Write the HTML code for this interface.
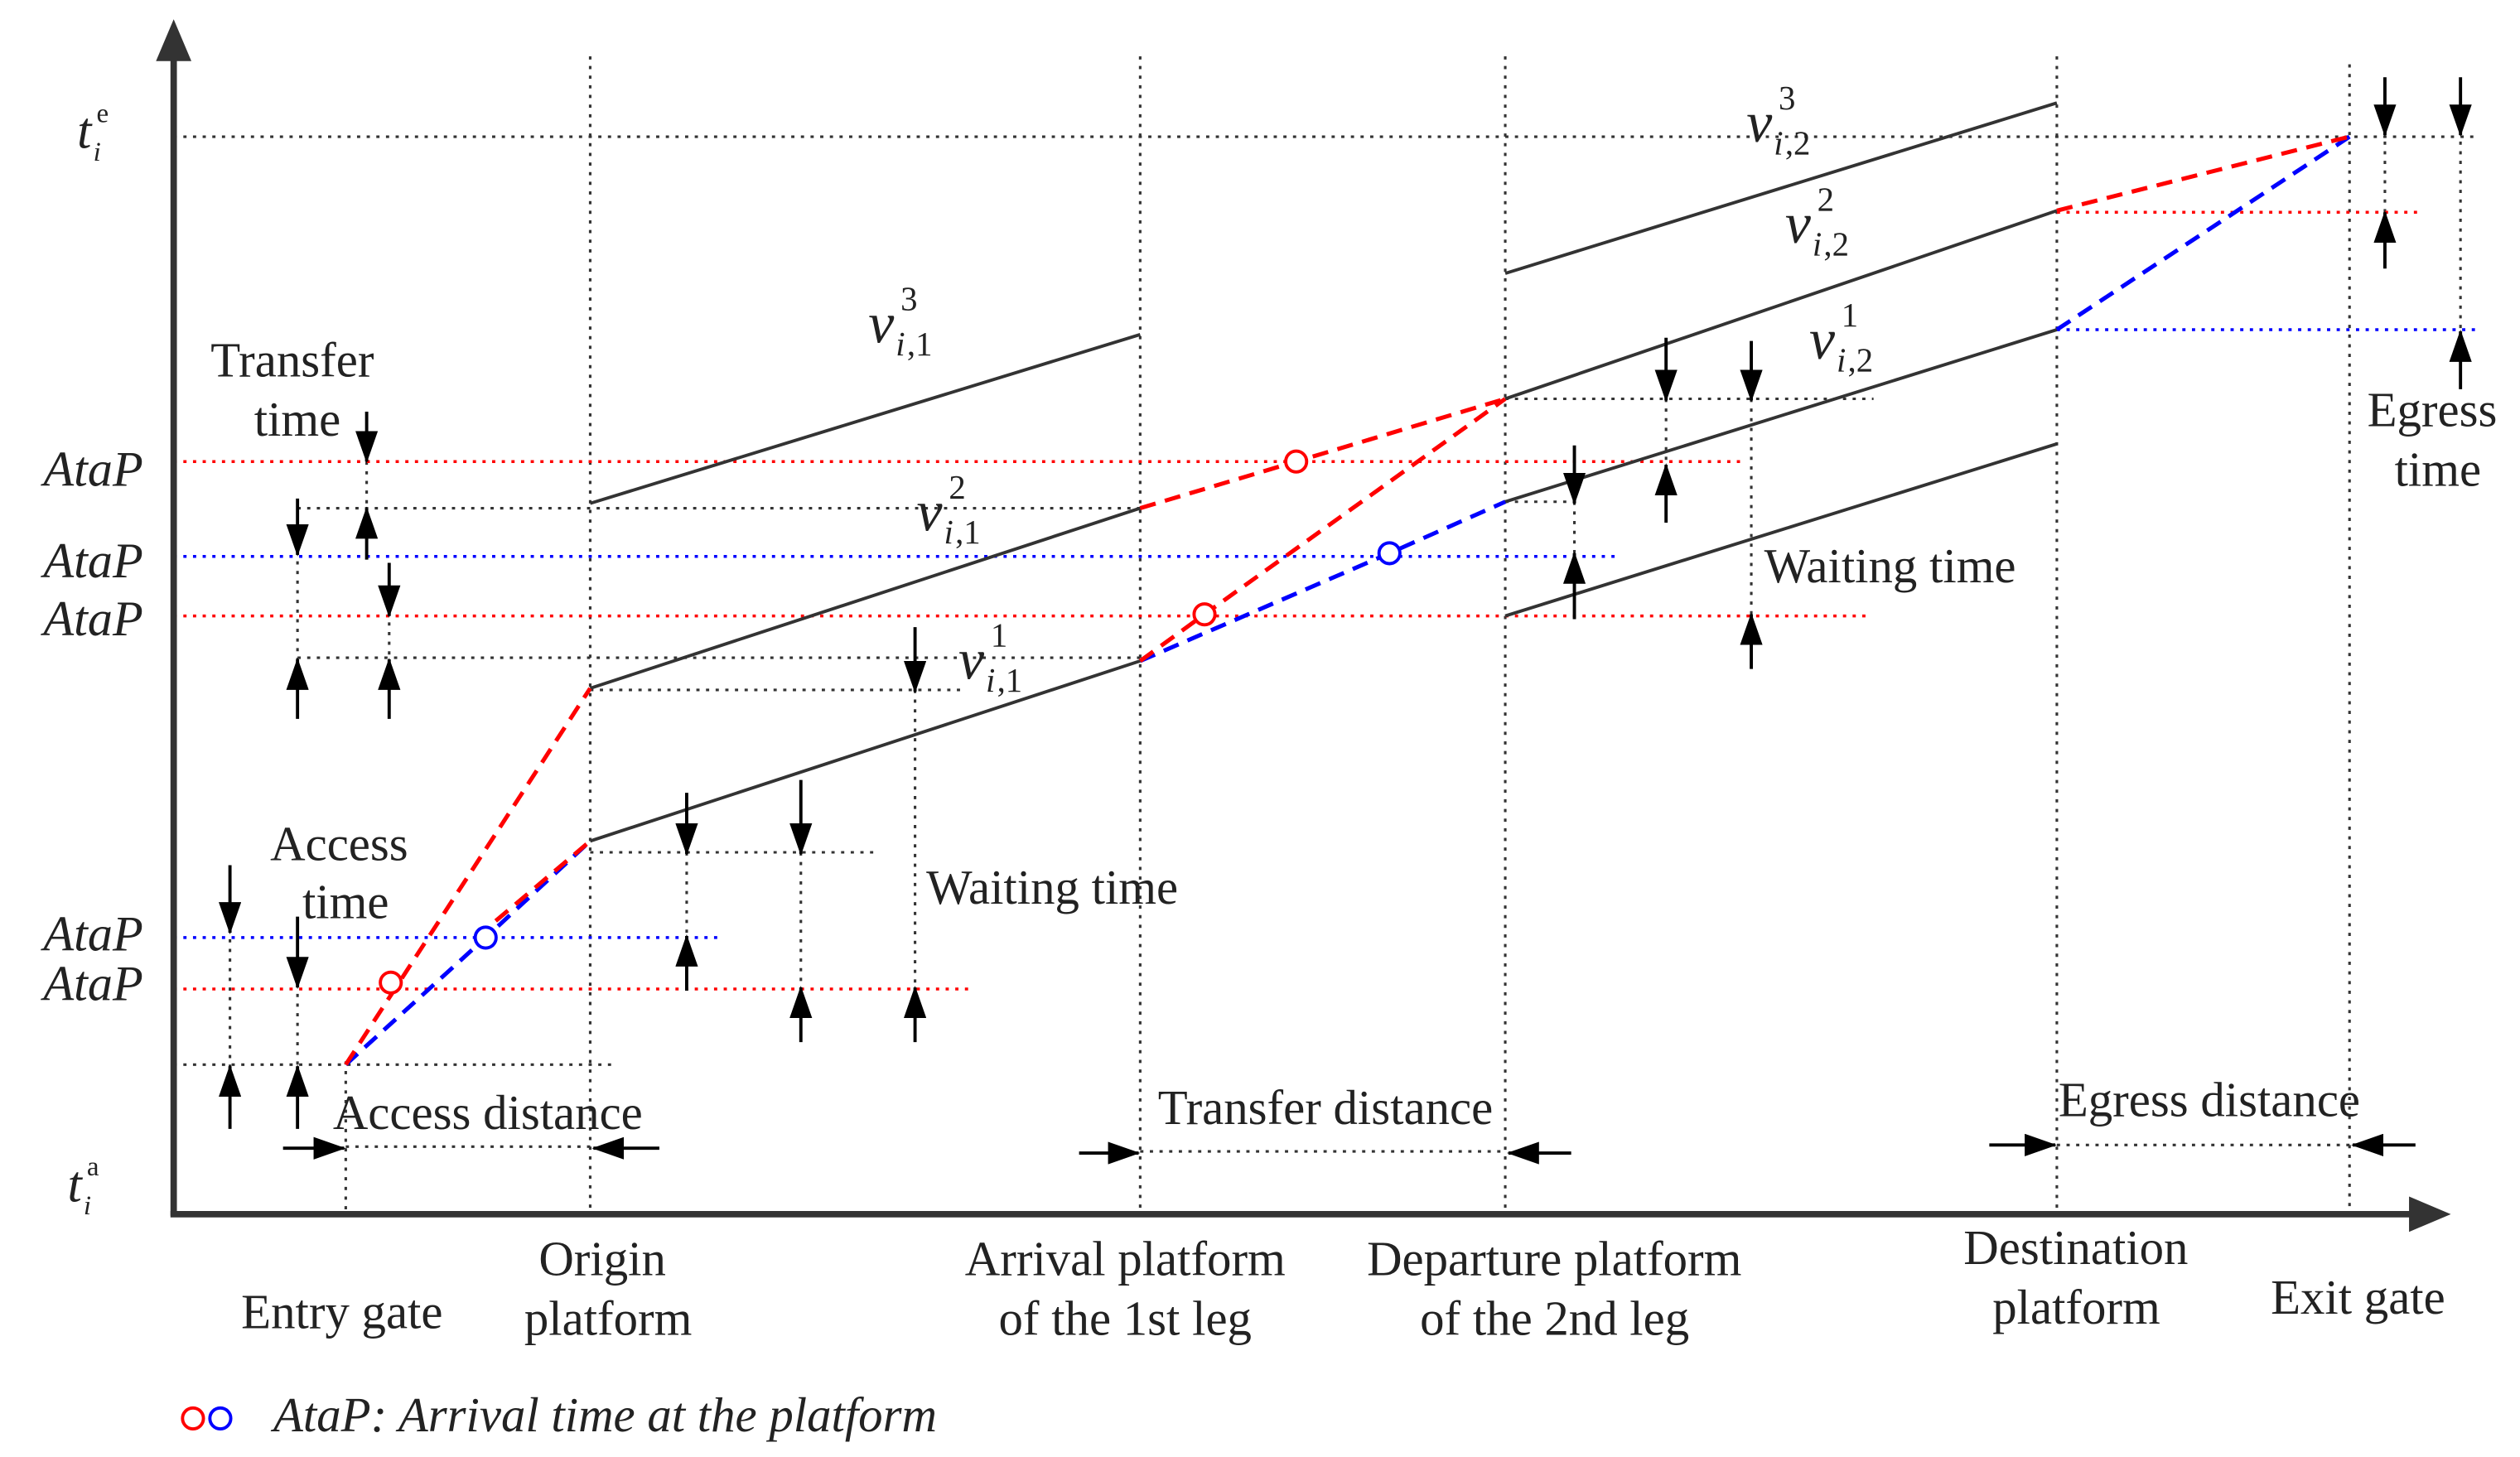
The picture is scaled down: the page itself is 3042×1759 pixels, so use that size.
<!DOCTYPE html>
<html><head><style>html,body{margin:0;padding:0;background:#fff}svg{display:block}</style></head><body>
<svg width="3042" height="1759" viewBox="0 0 1567 906" preserveAspectRatio="none" xmlns="http://www.w3.org/2000/svg" font-family="Liberation Serif, serif" fill="#222">
<defs>
<marker id="a2" markerWidth="20" markerHeight="14" refX="19" refY="7" orient="auto" markerUnits="userSpaceOnUse"><path d="M0,0 L20,7 L0,14z" fill="#000"/></marker>
</defs>
<g stroke="#333" stroke-width="1.6" stroke-dasharray="2,4" fill="none">
<line x1="215" y1="660" x2="215" y2="755"/>
<line x1="367" y1="35" x2="367" y2="755"/>
<line x1="709" y1="35" x2="709" y2="755"/>
<line x1="936" y1="35" x2="936" y2="755"/>
<line x1="1279" y1="35" x2="1279" y2="755"/>
<line x1="1461" y1="40" x2="1461" y2="755"/>
<line x1="1483" y1="82" x2="1483" y2="135"/>
<line x1="1530" y1="82" x2="1530" y2="210"/>
<line x1="108" y1="85" x2="1540" y2="85"/>
<line x1="185" y1="316" x2="709" y2="316"/>
<line x1="185" y1="409" x2="709" y2="409"/>
<line x1="367" y1="429" x2="600" y2="429"/>
<line x1="367" y1="530" x2="545" y2="530"/>
<line x1="108" y1="662" x2="380" y2="662"/>
<line x1="936" y1="248" x2="1165" y2="248"/>
<line x1="936" y1="312" x2="982" y2="312"/>
<line x1="215" y1="713" x2="367" y2="713"/>
<line x1="709" y1="716" x2="936" y2="716"/>
<line x1="1279" y1="712" x2="1461" y2="712"/>
<line x1="228" y1="287" x2="228" y2="318"/>
<line x1="185" y1="343" x2="185" y2="412"/>
<line x1="242" y1="381" x2="242" y2="412"/>
<line x1="143" y1="578" x2="143" y2="665"/>
<line x1="185" y1="612" x2="185" y2="665"/>
<line x1="427" y1="530" x2="427" y2="583"/>
<line x1="498" y1="530" x2="498" y2="615"/>
<line x1="569" y1="429" x2="569" y2="615"/>
<line x1="979" y1="312" x2="979" y2="345"/>
<line x1="1036" y1="248" x2="1036" y2="290"/>
<line x1="1089" y1="248" x2="1089" y2="383"/>
</g>
<g stroke-width="1.8" stroke-dasharray="2,4" fill="none">
<line x1="108" y1="287" x2="1085" y2="287" stroke="#f00"/>
<line x1="108" y1="383" x2="1160" y2="383" stroke="#f00"/>
<line x1="108" y1="615" x2="603" y2="615" stroke="#f00"/>
<line x1="1279" y1="132" x2="1505" y2="132" stroke="#f00"/>
<line x1="108" y1="346" x2="1005" y2="346" stroke="#00f"/>
<line x1="108" y1="583" x2="448" y2="583" stroke="#00f"/>
<line x1="1279" y1="205" x2="1540" y2="205" stroke="#00f"/>
</g>
<g stroke="#333" stroke-width="2" fill="none">
<line x1="367" y1="523" x2="709" y2="411"/>
<line x1="367" y1="428" x2="709" y2="316"/>
<line x1="367" y1="313" x2="709" y2="208"/>
<line x1="936" y1="312" x2="1279" y2="205"/>
<line x1="936" y1="248" x2="1279" y2="131"/>
<line x1="936" y1="170" x2="1279" y2="64"/>
<line x1="936" y1="383" x2="1279" y2="276"/>
</g>
<g stroke-width="2.6" stroke-dasharray="10,6" fill="none">
<polyline points="215,662 302,583 367,523" stroke="#00f"/>
<polyline points="709,411 864,344 936,312" stroke="#00f"/>
<polyline points="1279,205 1461,85" stroke="#00f"/>
<polyline points="215,662 367,428" stroke="#f00"/>
<polyline points="296,583 367,523" stroke="#f00"/>
<polyline points="709,316 806,287 936,248" stroke="#f00"/>
<polyline points="709,411 749,382 936,248" stroke="#f00"/>
<polyline points="1279,131 1461,85" stroke="#f00"/>
</g>
<g fill="#fff" stroke-width="2">
<circle cx="243" cy="611" r="6.5" stroke="#f00"/>
<circle cx="749" cy="382" r="6.5" stroke="#f00"/>
<circle cx="806" cy="287" r="6.5" stroke="#f00"/>
<circle cx="302" cy="583" r="6.5" stroke="#00f"/>
<circle cx="864" cy="344" r="6.5" stroke="#00f"/>
<circle cx="120" cy="882" r="6.5" stroke="#f00"/>
<circle cx="137" cy="882" r="6.5" stroke="#00f"/>
</g>
<g stroke="#000" stroke-width="2" marker-end="url(#a2)">
<line x1="228" y1="256" x2="228" y2="287"/>
<line x1="228" y1="348" x2="228" y2="316"/>
<line x1="185" y1="310" x2="185" y2="345"/>
<line x1="185" y1="447" x2="185" y2="410"/>
<line x1="242" y1="350" x2="242" y2="383"/>
<line x1="242" y1="447" x2="242" y2="410"/>
<line x1="143" y1="538" x2="143" y2="580"/>
<line x1="143" y1="702" x2="143" y2="663"/>
<line x1="185" y1="570" x2="185" y2="614"/>
<line x1="185" y1="702" x2="185" y2="663"/>
<line x1="427" y1="493" x2="427" y2="531"/>
<line x1="427" y1="616" x2="427" y2="582"/>
<line x1="498" y1="485" x2="498" y2="531"/>
<line x1="498" y1="648" x2="498" y2="614"/>
<line x1="569" y1="390" x2="569" y2="430"/>
<line x1="569" y1="648" x2="569" y2="614"/>
<line x1="979" y1="277" x2="979" y2="313"/>
<line x1="979" y1="385" x2="979" y2="344"/>
<line x1="1036" y1="210" x2="1036" y2="249"/>
<line x1="1036" y1="325" x2="1036" y2="289"/>
<line x1="1089" y1="212" x2="1089" y2="249"/>
<line x1="1089" y1="416" x2="1089" y2="382"/>
<line x1="1483" y1="48" x2="1483" y2="84"/>
<line x1="1483" y1="167" x2="1483" y2="132"/>
<line x1="1530" y1="48" x2="1530" y2="84"/>
<line x1="1530" y1="242" x2="1530" y2="206"/>
<line x1="176" y1="714" x2="214" y2="714"/>
<line x1="410" y1="714" x2="369" y2="714"/>
<line x1="671" y1="717" x2="708" y2="717"/>
<line x1="977" y1="717" x2="938" y2="717"/>
<line x1="1237" y1="712" x2="1278" y2="712"/>
<line x1="1502" y1="712" x2="1463" y2="712"/>
</g>
<g stroke="#333" stroke-width="4">
<line x1="108" y1="756" x2="108" y2="35"/>
<line x1="106" y1="755" x2="1500" y2="755"/>
</g>
<path d="M97,38 L108,12 L119,38z" fill="#333"/>
<path d="M1498,744 L1524,755 L1498,766z" fill="#333"/>
<g font-size="30.3">
<text x="131" y="234">Transfer</text>
<text x="158" y="271">time</text>
<text x="168" y="535">Access</text>
<text x="188" y="571">time</text>
<text x="207" y="702">Access distance</text>
<text x="720" y="699">Transfer distance</text>
<text x="1280" y="694">Egress distance</text>
<text x="576" y="562">Waiting time</text>
<text x="1097" y="362">Waiting time</text>
<text x="1472" y="265">Egress</text>
<text x="1489" y="302">time</text>
<text x="150" y="826">Entry gate</text>
<text x="335" y="793">Origin</text>
<text x="326" y="830">platform</text>
<text x="600" y="793">Arrival platform</text>
<text x="621" y="830">of the 1st leg</text>
<text x="850" y="793">Departure platform</text>
<text x="883" y="830">of the 2nd leg</text>
<text x="1221" y="786">Destination</text>
<text x="1239" y="823">platform</text>
<text x="1412" y="817">Exit gate</text>
</g>
<g font-size="30.3" font-style="italic">
<text x="27" y="302" font-size="31">AtaP</text>
<text x="27" y="359" font-size="31">AtaP</text>
<text x="27" y="395" font-size="31">AtaP</text>
<text x="27" y="591" font-size="31">AtaP</text>
<text x="27" y="622" font-size="31">AtaP</text>
<text x="170" y="890">AtaP: Arrival time at the platform</text>
<text x="48" y="92" font-size="32">t</text><text x="60" y="76" font-size="17" font-style="normal">e</text><text x="58" y="100" font-size="17">i</text>
<text x="42" y="747" font-size="32">t</text><text x="54" y="731" font-size="17" font-style="normal">a</text><text x="52" y="755" font-size="17">i</text>
<text x="540" y="213" font-size="36">v</text><text x="560" y="193" font-size="21" font-style="normal">3</text><text x="557" y="221" font-size="21">i</text><text x="564" y="221" font-size="21" font-style="normal">,1</text>
<text x="570" y="330" font-size="36">v</text><text x="590" y="310" font-size="21" font-style="normal">2</text><text x="587" y="338" font-size="21">i</text><text x="594" y="338" font-size="21" font-style="normal">,1</text>
<text x="596" y="422" font-size="36">v</text><text x="616" y="402" font-size="21" font-style="normal">1</text><text x="613" y="430" font-size="21">i</text><text x="620" y="430" font-size="21" font-style="normal">,1</text>
<text x="1086" y="88" font-size="36">v</text><text x="1106" y="68" font-size="21" font-style="normal">3</text><text x="1103" y="96" font-size="21">i</text><text x="1110" y="96" font-size="21" font-style="normal">,2</text>
<text x="1110" y="151" font-size="36">v</text><text x="1130" y="131" font-size="21" font-style="normal">2</text><text x="1127" y="159" font-size="21">i</text><text x="1134" y="159" font-size="21" font-style="normal">,2</text>
<text x="1125" y="223" font-size="36">v</text><text x="1145" y="203" font-size="21" font-style="normal">1</text><text x="1142" y="231" font-size="21">i</text><text x="1149" y="231" font-size="21" font-style="normal">,2</text>
</g>
</svg>
</body></html>
